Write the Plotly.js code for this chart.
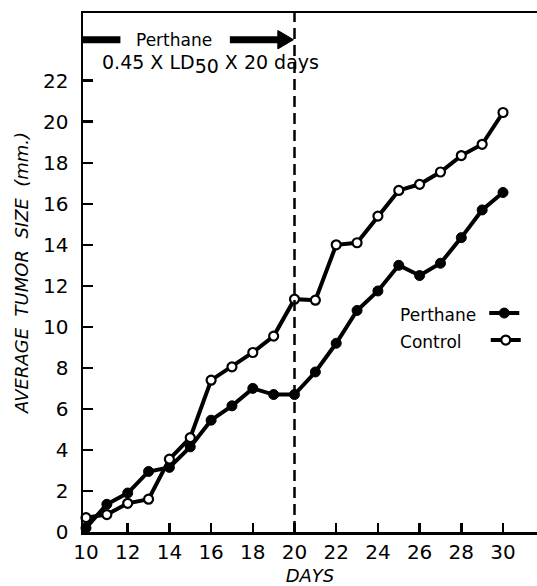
<!DOCTYPE html>
<html>
<head>
<meta charset="utf-8">
<script src="https://cdn.plot.ly/plotly-3.0.1.min.js"></script>
<style>html,body{margin:0;padding:0;background:#fff;}</style>
</head>
<body>
<div id="chart" style="width:537px;height:586px;"></div>
<script>
// ---- data ----
const days = [10,11,12,13,14,15,16,17,18,19,20,21,22,23,24,25,26,27,28,29,30];
const perthane = [0.2,1.35,1.9,2.95,3.15,4.15,5.45,6.15,7.0,6.7,6.7,7.8,9.2,10.8,11.75,13.0,12.5,13.1,14.35,15.7,16.55];
const control  = [0.7,0.85,1.4,1.6,3.55,4.6,7.4,8.05,8.75,9.55,11.35,11.3,14.0,14.1,15.4,16.65,16.95,17.55,18.35,18.9,20.45];
const xTicks = [10,12,14,16,18,20,22,24,26,28,30];
const yTicks = [0,2,4,6,8,10,12,14,16,18,20,22];
const treatmentEnd = 20;
const seriesNames = ["Perthane","Control"];

const FONT = "DejaVu Sans, Arial, sans-serif";
const XR = [9.856, 31.63];
const NB = "\u00a0";

const traces = [
  {x: days, y: perthane, name: seriesNames[0], type: "scatter", mode: "lines+markers",
   line: {color: "#000", width: 4},
   marker: {symbol: "circle", size: 10, color: "#000", line: {color: "#000", width: 1}},
   cliponaxis: false, legend: "legend"},
  {x: days, y: control, name: seriesNames[1], type: "scatter", mode: "lines+markers",
   line: {color: "#000", width: 4},
   marker: {symbol: "circle", size: 9, color: "#fff", line: {color: "#000", width: 2.2}},
   cliponaxis: false, legend: "legend2"}
];

// legend: name on the left, key on the right (title placed at the left side)
function legendBox(title, pad, y) {
  return {x: 0.694, y: y, xanchor: "left", yanchor: "middle",
          bgcolor: "rgba(0,0,0,0)", borderwidth: 0,
          title: {text: title + NB.repeat(pad), side: "left",
                  font: {family: FONT, size: 17, color: "#000"}},
          font: {family: FONT, size: 1, color: "rgba(0,0,0,0)"},
          itemwidth: 30};
}

const layout = {
  width: 537, height: 586,
  margin: {l: 83, r: 0, t: 13, b: 54, autoexpand: false},
  paper_bgcolor: "#fff", plot_bgcolor: "#fff",
  font: {family: FONT, color: "#000"},
  showlegend: true,
  legend: legendBox(seriesNames[0], 0, 0.418),
  legend2: legendBox(seriesNames[1], 3, 0.366),
  xaxis: {range: XR, tickvals: xTicks, ticktext: xTicks.map(String),
          ticks: "inside", ticklen: 9, tickwidth: 2.5, tickcolor: "#000",
          showline: true, linewidth: 2.5, linecolor: "#000", mirror: true,
          showgrid: false, zeroline: false,
          tickfont: {family: FONT, size: 20, color: "#000"},
          ticklabelstandoff: 0,
          title: {text: "DAYS", standoff: 10,
                  font: {family: FONT, size: 18, color: "#000", style: "italic"}}},
  yaxis: {range: [0, 25.3], tickvals: yTicks, ticktext: yTicks.map(String),
          ticks: "inside", ticklen: 10, tickwidth: 2.5, tickcolor: "#000",
          showline: true, linewidth: 2.5, linecolor: "#000", mirror: false,
          showgrid: false, zeroline: false,
          tickfont: {family: FONT, size: 20, color: "#000"},
          ticklabelstandoff: 8,
          title: {text: "AVERAGE  TUMOR  SIZE  (mm.)", standoff: 10,
                  font: {family: FONT, size: 18, color: "#000", style: "italic"}}},
  shapes: [
    {type: "line", xref: "x", yref: "paper", x0: treatmentEnd, x1: treatmentEnd, y0: 0, y1: 1,
     line: {color: "#000", width: 2.5, dash: "11px,6px"}},
    {type: "line", xref: "x", yref: "y", x0: XR[0], x1: 11.65, y0: 24, y1: 24,
     line: {color: "#000", width: 7}},
    {type: "line", xref: "x", yref: "y", x0: 16.9, x1: 19.3, y0: 24, y1: 24,
     line: {color: "#000", width: 7}},
    {type: "path", xref: "x", yref: "y", path: "M 19.2,23.55 L 19.95,24 L 19.2,24.45 Z",
     fillcolor: "#000", line: {color: "#000", width: 1}}
  ],
  annotations: [
    {x: 14.2, y: 24, xref: "x", yref: "y", text: "Perthane", showarrow: false,
     font: {family: FONT, size: 17, color: "#000"}},
    {x: 15.95, y: 22.8, xref: "x", yref: "y",
     text: "0.45 X LD<sub><span style=\"font-size:19px\">50</span></sub> X 20 days", showarrow: false,
     font: {family: FONT, size: 19, color: "#000"}}
  ]
};

Plotly.newPlot("chart", traces, layout, {displayModeBar: false, staticPlot: true});
</script>
</body>
</html>
